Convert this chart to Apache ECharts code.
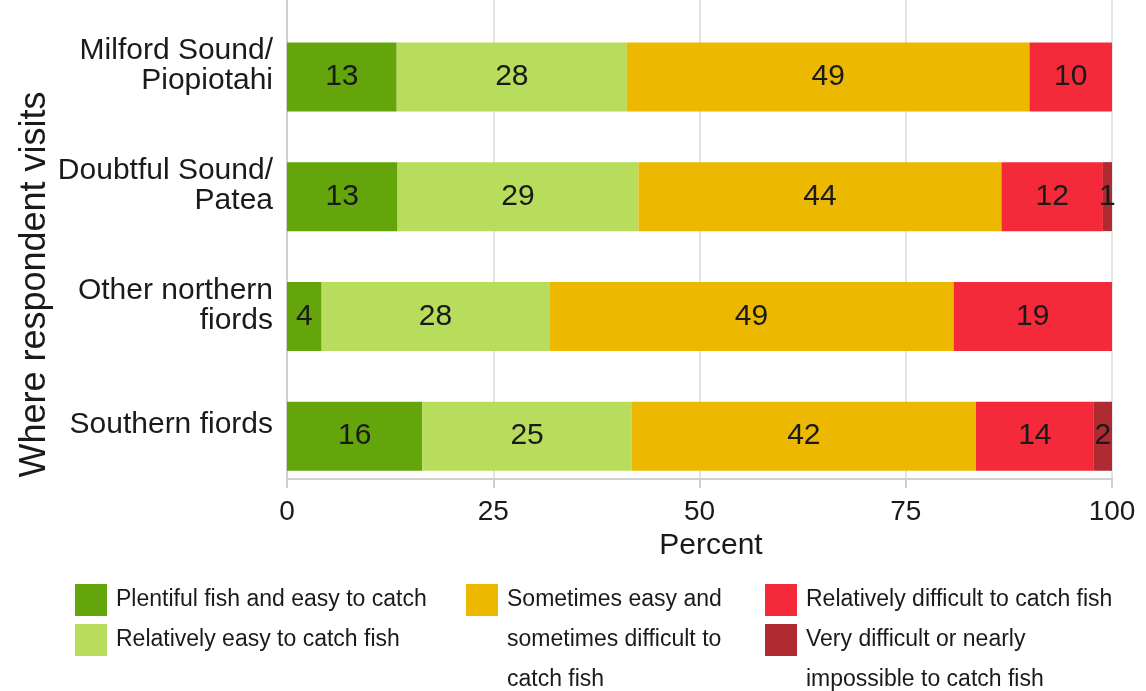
<!DOCTYPE html>
<html>
<head>
<meta charset="utf-8">
<script src="https://cdn.jsdelivr.net/npm/echarts@6/dist/echarts.min.js"></script>
<style>
  html, body { margin: 0; padding: 0; background: #fff; }
  #chart { width: 1146px; height: 691px; }
</style>
</head>
<body>
<div id="chart"></div>
<script>
var categories = ['Milford Sound/\nPiopiotahi', 'Doubtful Sound/\nPatea', 'Other northern\nfiords', 'Southern fiords'];
var seriesNames = [
  'Plentiful fish and easy to catch',
  'Relatively easy to catch fish',
  'Sometimes easy and sometimes difficult to catch fish',
  'Relatively difficult to catch fish',
  'Very difficult or nearly impossible to catch fish'
];
// percentages per fiord group
var plentiful     = [13.3, 13.4, 4.2, 16.4];
var relEasy       = [27.9, 29.2, 27.6, 25.4];
var sometimes     = [48.8, 44.0, 49.0, 41.7];
var relDifficult  = [10.0, 12.3, 19.2, 14.3];
var veryDifficult = [0, 1.1, 0, 2.2];
var xTicks = [0, 25, 50, 75, 100];

var colors = ['#63a50b', '#b8dc5b', '#ecb800', '#f42a3a', '#b02a31'];
var fontFam = '"Liberation Sans", Arial, sans-serif';

// legend lines: first line goes in the legend item, the rest below it
var legendLines = {};
legendLines[seriesNames[0]] = ['Plentiful fish and easy to catch'];
legendLines[seriesNames[1]] = ['Relatively easy to catch fish'];
legendLines[seriesNames[2]] = ['Sometimes easy and', 'sometimes difficult to', 'catch fish'];
legendLines[seriesNames[3]] = ['Relatively difficult to catch fish'];
legendLines[seriesNames[4]] = ['Very difficult or nearly', 'impossible to catch fish'];

var chart = echarts.init(document.getElementById('chart'));

function legendCol(names, left) {
  return {
    data: names,
    orient: 'vertical',
    left: left,
    top: 580,
    padding: 0,
    icon: 'rect',
    itemWidth: 32,
    itemHeight: 32,
    itemGap: 0,
    itemStyle: { borderWidth: 0 },
    selectedMode: false,
    textStyle: { fontSize: 23, lineHeight: 40, color: '#1a1a1a', fontFamily: fontFam, padding: [0, 0, 0, 4] },
    formatter: function (name) { return legendLines[name][0]; }
  };
}

function barSeries(idx, data) {
  return {
    name: seriesNames[idx],
    type: 'bar',
    stack: 'all',
    xAxisIndex: 0,
    yAxisIndex: 0,
    barWidth: 69,
    data: data,
    itemStyle: { color: colors[idx] },
    label: {
      show: true,
      position: 'inside',
      color: '#1a1a1a',
      fontSize: 30,
      fontFamily: fontFam,
      formatter: function (p) { return p.value ? Math.round(p.value) : ''; }
    },
    emphasis: { disabled: true }
  };
}

var legendTexts = [
  { text: legendLines[seriesNames[2]][1], x: 507, y: 640 },
  { text: legendLines[seriesNames[2]][2], x: 507, y: 680 },
  { text: legendLines[seriesNames[4]][1], x: 806, y: 680 }
];

var option = {
  animation: false,
  grid: [
    { left: 287, right: 34, top: 17, height: 479 },   // bars
    { left: 287, right: 34, top: 0, height: 479 },    // x axis, grid lines
    { left: 287, right: 34, top: 6, height: 479 }     // category labels
  ],
  legend: [
    legendCol([seriesNames[0], seriesNames[1]], 75),
    legendCol([seriesNames[2]], 466),
    legendCol([seriesNames[3], seriesNames[4]], 765)
  ],
  xAxis: [
    { type: 'value', gridIndex: 0, min: 0, max: 100, show: false },
    {
      type: 'value', gridIndex: 1, min: 0, max: 100, interval: 25,
      axisLine: { show: true, lineStyle: { color: '#cfcfcf', width: 2 } },
      axisTick: { show: true, length: 9, lineStyle: { color: '#cfcfcf', width: 2 } },
      splitLine: { show: true, lineStyle: { color: '#e3e3e3', width: 2 } },
      axisLabel: {
        margin: 19, fontSize: 28, color: '#1a1a1a', fontFamily: fontFam,
        formatter: function (v) { return xTicks.indexOf(v) >= 0 ? v : ''; }
      },
      name: 'Percent',
      nameLocation: 'middle',
      nameGap: 46,
      nameTextStyle: { fontSize: 30, color: '#1a1a1a', fontFamily: fontFam, padding: [0, 0, 0, 23] }
    },
    { type: 'value', gridIndex: 2, min: 0, max: 100, show: false }
  ],
  yAxis: [
    { type: 'category', gridIndex: 0, data: categories, inverse: true, show: false },
    {
      type: 'value', gridIndex: 1, min: 0, max: 1,
      axisLine: { show: true, lineStyle: { color: '#cfcfcf', width: 2 } },
      axisTick: { show: false },
      axisLabel: { show: false },
      splitLine: { show: false },
      name: 'Where respondent visits',
      nameLocation: 'middle',
      nameRotate: 90,
      nameGap: 234,
      nameTextStyle: { fontSize: 36, color: '#1a1a1a', fontFamily: fontFam, padding: [0, 90, 0, 0] }
    },
    {
      type: 'category', gridIndex: 2, data: categories, inverse: true,
      axisLine: { show: false },
      axisTick: { show: false },
      splitLine: { show: false },
      axisLabel: {
        margin: 14, fontSize: 30, lineHeight: 30, color: '#1a1a1a', fontFamily: fontFam,
        align: 'right'
      }
    }
  ],
  graphic: legendTexts.map(function (t) {
    return {
      type: 'text', x: t.x, y: t.y,
      style: { text: t.text, fill: '#1a1a1a', font: '23px ' + fontFam, verticalAlign: 'middle' }
    };
  }),
  series: [
    barSeries(0, plentiful),
    barSeries(1, relEasy),
    barSeries(2, sometimes),
    barSeries(3, relDifficult),
    barSeries(4, veryDifficult)
  ]
};

chart.setOption(option);
</script>
</body>
</html>
